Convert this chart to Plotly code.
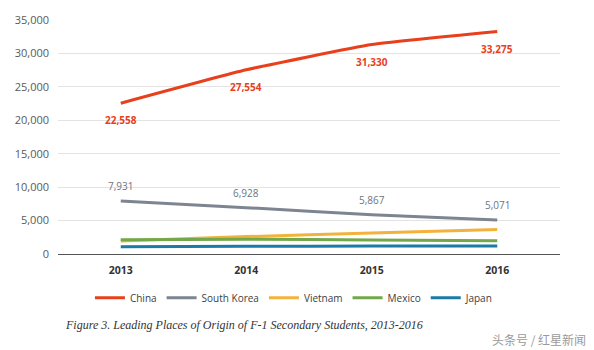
import plotly.graph_objects as go

years = ["2013", "2014", "2015", "2016"]
china = [22558, 27554, 31330, 33275]
south_korea = [7931, 6928, 5867, 5071]
vietnam = [1950, 2600, 3150, 3650]
mexico = [2150, 2200, 2100, 2000]
japan = [1100, 1150, 1200, 1200]

series = [
    ("China", china, "#E8401C"),
    ("South Korea", south_korea, "#7D8591"),
    ("Vietnam", vietnam, "#F3B23C"),
    ("Mexico", mexico, "#73A84A"),
    ("Japan", japan, "#1B7BA6"),
]

fig = go.Figure()
for name, vals, color in series:
    fig.add_trace(go.Scatter(
        x=years, y=vals, name=name, mode="lines",
        line=dict(color=color, width=3, shape="spline", smoothing=0.4),
    ))

annotations = []
for i, v in enumerate(china):
    annotations.append(dict(x=i, y=v, xref="x", yref="y", text=f"<b>{v:,}</b>", showarrow=False, yshift=-17,
                            font=dict(family="Open Sans", size=10, color="#E8401C")))
for i, v in enumerate(south_korea):
    annotations.append(dict(x=i, y=v, xref="x", yref="y", text=f"{v:,}", showarrow=False, yshift=15,
                            font=dict(family="Open Sans", size=10, color="#6E7580")))

annotations.append(dict(xref="paper", yref="paper", x=0.01, y=-0.305, xanchor="left", yanchor="middle",
                        text="<i>Figure 3. Leading Places of Origin of F-1 Secondary Students, 2013-2016</i>",
                        showarrow=False, font=dict(family="Liberation Serif", size=12, color="#333333")))
annotations.append(dict(xref="paper", yref="paper", x=1.055, y=-0.365, xanchor="right", yanchor="middle",
                        text="头条号 / 红星新闻", showarrow=False,
                        font=dict(family="Noto Sans CJK SC", size=12, color="#9a9a9a")))

fig.update_layout(
    width=594, height=350,
    margin=dict(l=58, r=34, t=16, b=96),
    paper_bgcolor="white", plot_bgcolor="white",
    font=dict(family="Open Sans", color="#595959"),
    showlegend=True,
    legend=dict(orientation="h", x=0.47, xanchor="center", y=-0.125, yanchor="top",
                font=dict(size=10, color="#404040"), itemwidth=30, tracegroupgap=0),
    annotations=annotations,
    xaxis=dict(type="category", range=[-0.5, 3.5], showgrid=False, showline=True,
               linecolor="#555555", linewidth=1.3, ticks="",
               tickfont=dict(size=10.5, color="#333333", weight="bold"), ticklabelstandoff=6),
    yaxis=dict(range=[0, 35000], dtick=5000, tickformat=",", showgrid=True,
               gridcolor="#E3E3E3", gridwidth=1, zeroline=False, showline=False,
               tickfont=dict(size=11, color="#595959"), ticklabelstandoff=8),
)

fig.write_html("out.html")
